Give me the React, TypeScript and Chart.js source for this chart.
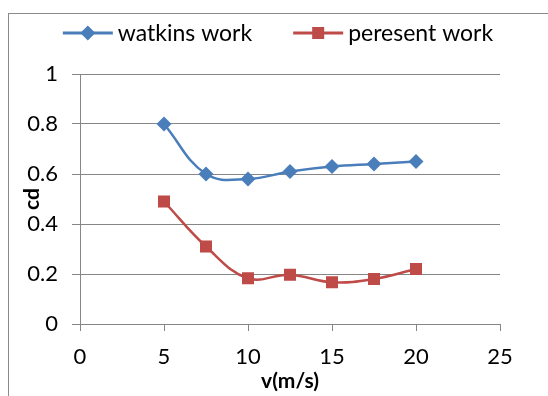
import React, { useEffect, useRef } from "react";
import { Chart, registerables } from "chart.js";

Chart.register(...registerables);

const speeds = [5, 7.5, 10, 12.5, 15, 17.5, 20];
const watkinsWork = [0.8, 0.6, 0.58, 0.61, 0.63, 0.64, 0.65];
const presentWork = [0.49, 0.31, 0.183, 0.197, 0.167, 0.18, 0.22];
const seriesNames = ["watkins work", "peresent work"];
const seriesColors = ["#4A7EBB", "#BE4B48"];
const xTickValues = [0, 5, 10, 15, 20, 25];

const FONT = "Lato, 'Liberation Sans', sans-serif";

// Legend drawn at the top: a short line with the series marker, then the name.
const topLegend = {
  id: "topLegend",
  afterDraw(chart: any) {
    const ctx = chart.ctx as CanvasRenderingContext2D;
    ctx.save();
    ctx.font = `23px ${FONT}`;
    ctx.textBaseline = "middle";
    const lineW = 50;
    const gapText = 5;
    const gapItems = 41;
    const items = chart.data.datasets.map((ds: any) => ({
      ds,
      tw: ctx.measureText(ds.label).width,
    }));
    const total =
      items.reduce((s: number, it: any) => s + lineW + gapText + it.tw, 0) +
      gapItems * (items.length - 1);
    let x = 278 - total / 2;
    const y = 33;
    items.forEach((it: any) => {
      const { ds } = it;
      ctx.strokeStyle = ds.borderColor;
      ctx.lineWidth = 3;
      ctx.beginPath();
      ctx.moveTo(x, y);
      ctx.lineTo(x + lineW, y);
      ctx.stroke();
      ctx.fillStyle = ds.borderColor;
      const cx = x + lineW / 2;
      ctx.beginPath();
      if (ds.pointStyle === "rectRot") {
        const r = ds.pointRadius;
        ctx.moveTo(cx, y - r);
        ctx.lineTo(cx + r, y);
        ctx.lineTo(cx, y + r);
        ctx.lineTo(cx - r, y);
        ctx.closePath();
      } else {
        const s = Math.SQRT1_2 * ds.pointRadius;
        ctx.rect(cx - s, y - s, 2 * s, 2 * s);
      }
      ctx.fill();
      ctx.fillStyle = "#000";
      ctx.fillText(ds.label, x + lineW + gapText, y + 1);
      x += lineW + gapText + it.tw + gapItems;
    });
    ctx.restore();
  },
};

export default function App() {
  const ref = useRef<HTMLCanvasElement>(null);

  useEffect(() => {
    if (!ref.current) return;
    const chart = new Chart(ref.current, {
      type: "line",
      data: {
        datasets: [
          {
            label: seriesNames[0],
            data: speeds.map((v, i) => ({ x: v, y: watkinsWork[i] })),
            borderColor: seriesColors[0],
            backgroundColor: seriesColors[0],
            borderWidth: 2.5,
            pointStyle: "rectRot",
            pointRadius: 7.5,
            pointBorderWidth: 0,
            tension: 0.4,
          },
          {
            label: seriesNames[1],
            data: speeds.map((v, i) => ({ x: v, y: presentWork[i] })),
            borderColor: seriesColors[1],
            backgroundColor: seriesColors[1],
            borderWidth: 2.5,
            pointStyle: "rect",
            pointRadius: 8.5,
            pointBorderWidth: 0,
            tension: 0.4,
          },
        ],
      },
      options: {
        animation: false,
        responsive: false,
        layout: { padding: { left: 8, right: 48, top: 74, bottom: 0 } },
        plugins: {
          legend: { display: false },
          tooltip: { enabled: false },
        },
        scales: {
          x: {
            type: "linear",
            min: 0,
            max: 25,
            afterBuildTicks: (axis: any) => {
              axis.ticks = xTickValues.map((v) => ({ value: v }));
            },
            afterFit: (axis: any) => {
              axis.height = 72;
            },
            grid: {
              display: true,
              drawOnChartArea: false,
              drawTicks: true,
              tickLength: 7,
              color: "#868686",
            },
            border: { display: true, color: "#868686" },
            ticks: {
              color: "#000",
              font: { family: FONT, size: 22 },
              padding: 13,
            },
            title: {
              display: true,
              text: "v(m/s)",
              color: "#000",
              font: { family: FONT, size: 21, weight: "bold" },
              padding: { top: 0, bottom: 2 },
            },
          },
          y: {
            type: "linear",
            min: 0,
            max: 1,
            afterFit: (axis: any) => {
              axis.width = 72;
            },
            ticks: {
              stepSize: 0.2,
              color: "#000",
              font: { family: FONT, size: 22 },
              padding: 14,
              callback: (v: any) => String(Math.round(Number(v) * 10) / 10),
            },
            grid: {
              color: "#868686",
              tickLength: 8,
              drawTicks: true,
            },
            border: { display: true, color: "#868686" },
            title: {
              display: true,
              text: "cd",
              color: "#000",
              font: { family: FONT, size: 21, weight: "bold" },
              padding: { top: 12, bottom: 0 },
            },
          },
        },
      },
      plugins: [topLegend],
    } as any);
    return () => chart.destroy();
  }, []);

  return (
    <div
      style={{
        position: "fixed",
        left: 0,
        top: 0,
        width: 548,
        height: 396,
        background: "#fff",
      }}
    >
      <div
        style={{
          position: "absolute",
          left: 8,
          top: 13,
          width: 560,
          height: 400,
          borderLeft: "1px solid #8a8a8a",
          borderTop: "1px solid #8a8a8a",
        }}
      />
      <canvas
        ref={ref}
        width={548}
        height={396}
        style={{ position: "absolute", left: 0, top: 0 }}
      />
    </div>
  );
}
